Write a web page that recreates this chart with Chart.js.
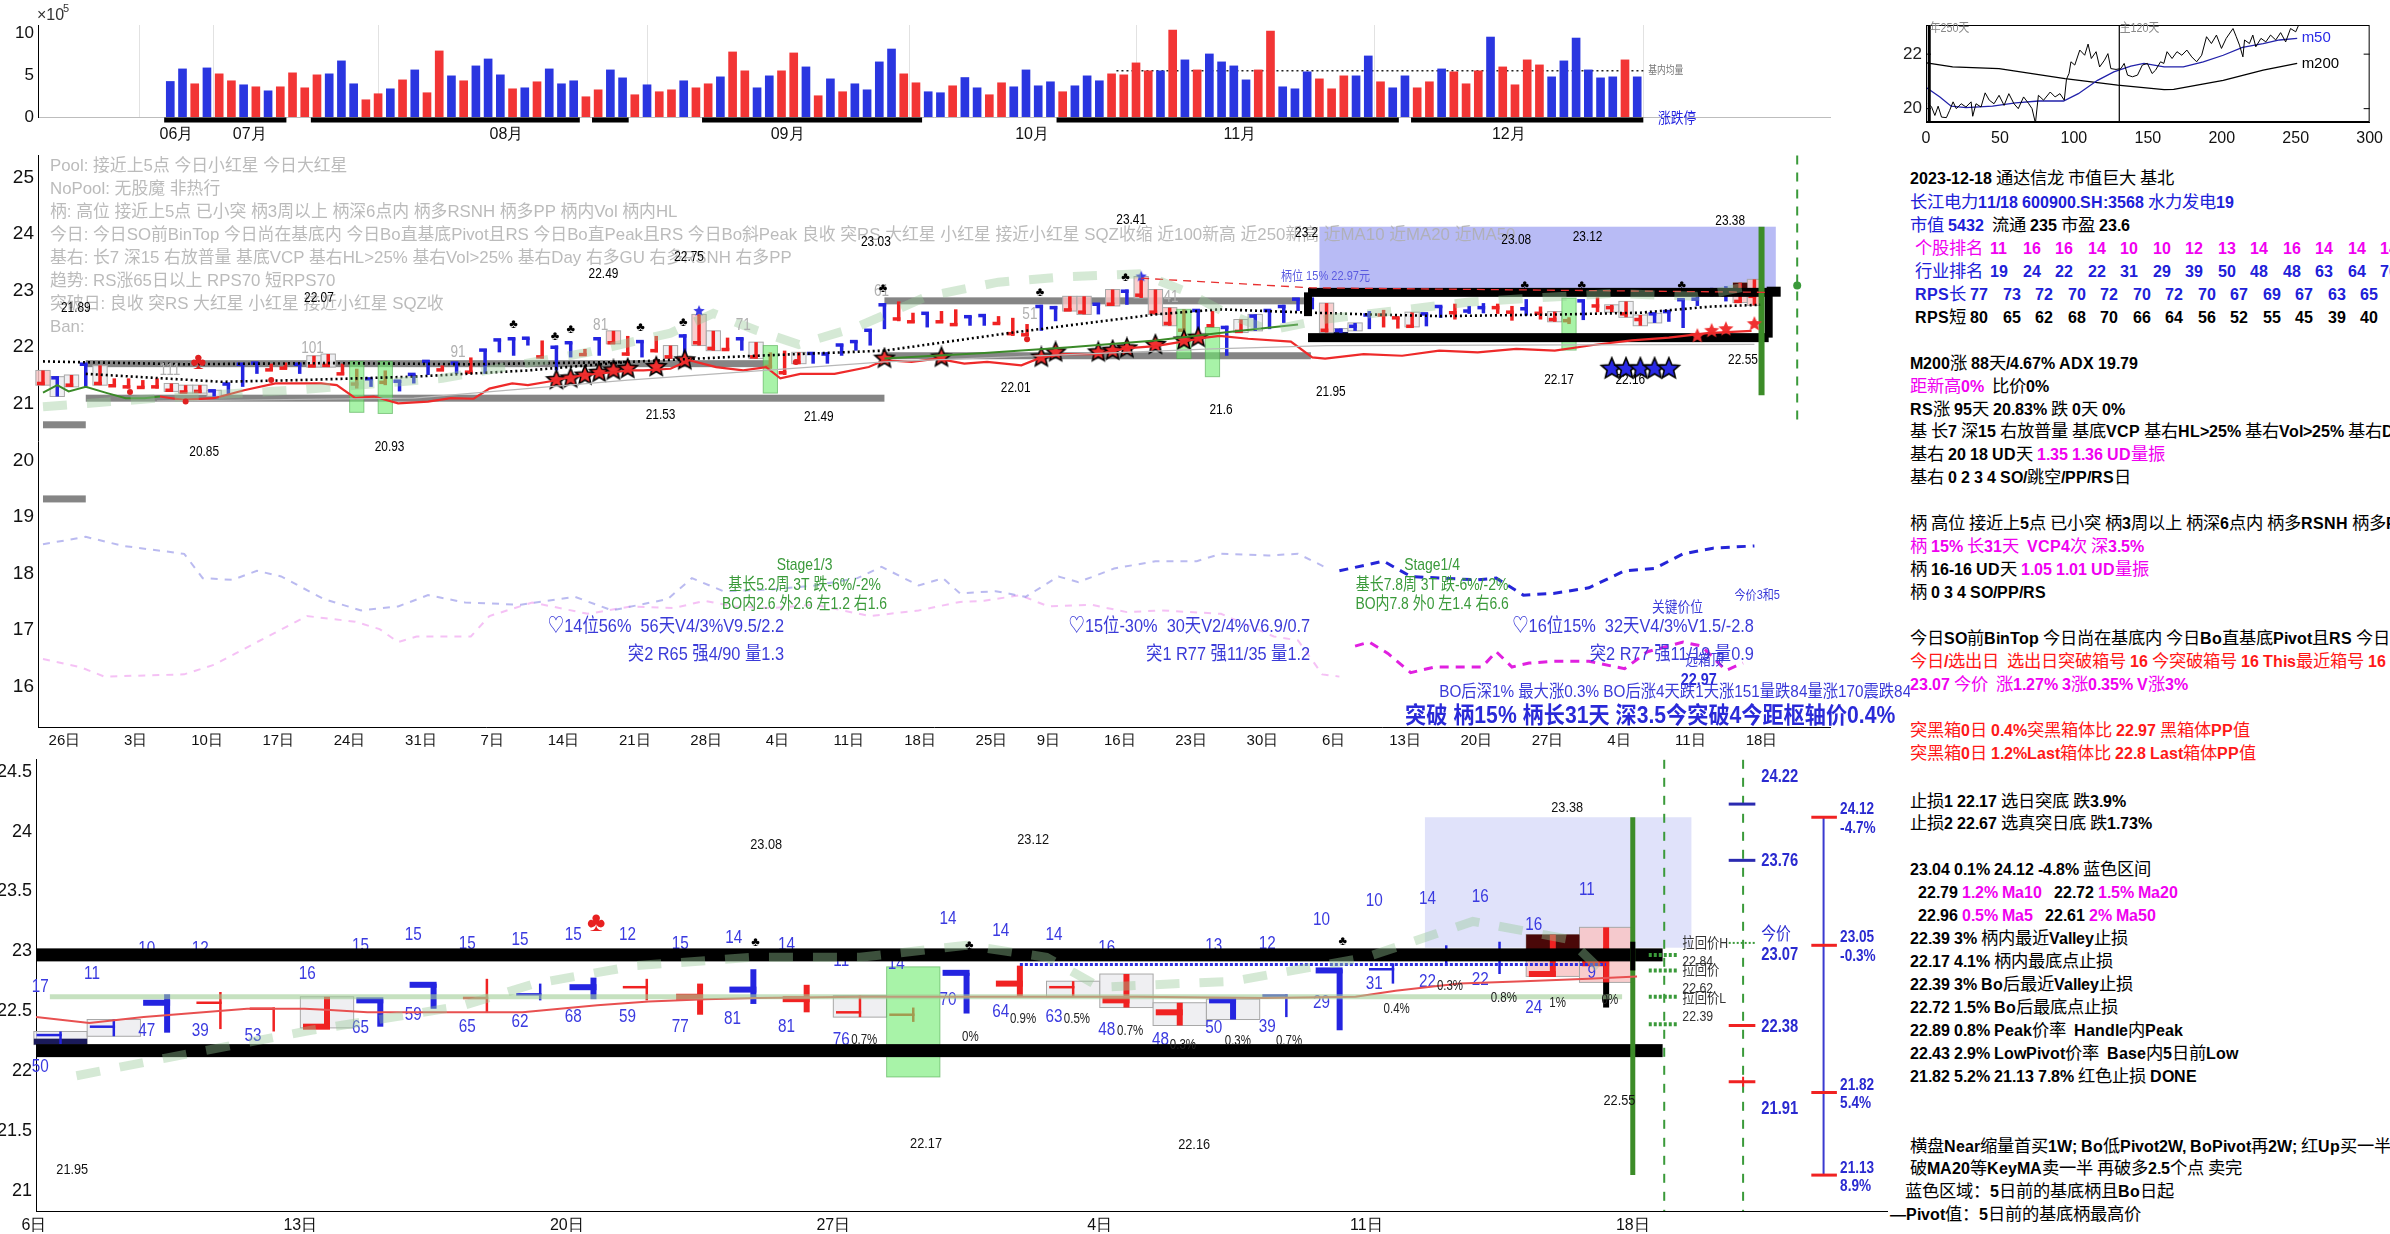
<!DOCTYPE html>
<html><head><meta charset="utf-8">
<script src="https://cdn.jsdelivr.net/npm/chart.js"></script>
<style>
@font-face{font-family:'PL';src:local('Liberation Sans Bold'),local('LiberationSans-Bold');unicode-range:U+0000-02FF,U+2000-206F;}
@font-face{font-family:'PC';src:local('Noto Sans CJK SC'),local('NotoSansCJKsc-Regular'),local('Noto Sans CJK SC Regular');size-adjust:108%;unicode-range:U+2E80-9FFF,U+3000-303F,U+FF00-FFEF;}
html,body{margin:0;padding:0;background:#fff;}
body{width:2390px;height:1234px;overflow:hidden;position:relative;}
canvas{position:absolute;}
.ln{position:absolute;white-space:pre;font-family:'PL','PC','Noto Sans CJK SC',sans-serif;font-size:16px;line-height:20px;color:#000;}
</style></head><body>
<canvas id="cv" width="1890" height="160" style="left:0;top:0"></canvas>
<canvas id="cm" width="500" height="160" style="left:1890px;top:0"></canvas>
<canvas id="cp" width="1910" height="620" style="left:0;top:140px"></canvas>
<canvas id="cb" width="1890" height="489" style="left:0;top:745px"></canvas>
<div id="rp"></div>
<script>
// ================= DATA =================
const volume=[4.25,5.75,3.97,5.87,5.16,4.33,3.85,3.61,3.13,3.61,5.28,3.49,5.04,5.16,6.71,3.97,2.06,2.78,3.37,4.44,
5.63,2.9,7.9,4.92,4.33,6.11,6.94,5.04,3.37,3.49,4.21,5.75,3.97,4.33,2.42,3.25,5.63,4.68,2.66,3.85,
3.02,3.25,4.33,3.49,3.97,4.8,7.78,5.52,3.49,4.92,5.52,7.66,5.99,2.54,4.56,3.02,3.97,3.25,6.59,8.13,
5.16,4.09,3.02,2.9,3.73,4.72,3.49,2.66,4.09,3.61,5.63,3.73,4.21,3.02,3.73,4.92,4.33,5.16,5.04,6.47,
5.52,5.52,10.4,6.83,5.63,7.54,6.59,6.11,4.44,5.63,10.28,3.61,3.37,5.4,4.56,3.37,4.92,4.92,7.3,4.21,
3.49,4.92,3.49,4.21,5.75,5.4,3.97,5.52,9.56,5.99,3.85,6.83,6.23,4.8,6.71,9.44,5.63,4.68,4.8,6.83,4.8];
const volColor="bbrbrrbrbr"+"rrrbbbrrbr"+"brrbrbbbrb"+"rbbbrrbbrb"+"rrbrrbrrbb"+"rrbrbrbbbb"+"rrbbr"+
"bbrrbbbbrb"+"bbrrrrbrbr"+"bbbbrrbbbr"+"rrbbrbbrrb"+"rrrbrrrrbb"+"bbbbrb";
const volSegments=[[0,9],[12,33],[35,37],[44,61],[73,100],[102,120]];
const volBaseAvg=[[77.4,5.52],[120.5,5.52]];

const open=[21.36,21.46,21.33,21.70,21.36,21.32,21.30,21.29,21.30,21.24,21.21,21.22,21.23,21.35,21.70,21.72,21.60,21.63,21.70,21.67,
21.68,21.53,21.35,21.44,21.38,21.40,21.52,21.75,21.60,21.72,21.56,21.95,22.13,22.15,22.16,21.83,22.00,22.08,21.87,22.15,
22.08,21.88,22.10,21.94,21.83,22.20,22.08,21.98,21.96,22.15,21.83,21.66,21.55,21.73,21.89,21.88,22.04,22.10,22.30,22.75,
22.50,22.45,22.60,22.45,22.40,22.54,22.56,22.42,22.24,22.22,22.72,22.70,22.66,22.62,22.76,22.76,22.99,22.92,22.62,22.42,
22.30,22.65,22.38,22.35,22.28,22.55,22.65,22.72,22.85,22.85,22.30,22.30,22.37,22.57,22.57,22.52,22.37,22.59,22.72,22.61,
22.64,22.70,22.70,22.62,22.68,22.60,22.49,22.47,22.82,22.73,22.70,22.59,22.49,22.59,22.63,22.84,22.85,23.00,23.00,22.81,22.90];
const high=[21.59,21.48,21.51,21.71,21.68,21.45,21.45,21.42,21.45,21.36,21.33,21.33,21.24,21.36,21.71,21.74,21.71,21.73,21.71,21.85,
21.88,21.71,21.62,21.45,21.59,21.42,21.53,21.77,21.68,21.74,21.82,21.97,22.14,22.17,22.17,22.12,22.03,22.09,21.97,22.17,
22.29,22.20,22.12,22.20,22.03,22.23,22.58,22.29,22.17,22.17,22.09,21.91,21.94,21.91,21.91,21.91,22.06,22.12,22.32,22.78,
22.81,22.61,22.61,22.64,22.67,22.55,22.58,22.55,22.52,22.41,22.75,22.73,22.90,22.90,22.78,23.02,23.02,23.25,23.02,22.70,
22.67,22.67,22.64,22.38,22.49,22.58,22.67,22.75,22.87,22.87,22.78,22.33,22.43,22.64,22.66,22.53,22.62,22.60,22.73,22.77,
22.73,22.78,22.77,22.73,22.85,22.72,22.63,22.53,22.82,22.88,22.75,22.81,22.57,22.60,22.64,22.85,22.90,23.05,23.08,23.14,23.20];
const low=[21.33,21.13,21.30,21.30,21.33,21.30,21.27,21.27,21.27,21.22,21.19,21.19,21.13,21.16,21.30,21.53,21.59,21.62,21.53,21.65,
21.65,21.51,21.27,21.30,21.33,21.22,21.36,21.51,21.59,21.53,21.53,21.53,21.91,21.85,22.03,21.80,21.59,21.82,21.85,21.85,
22.06,21.85,21.82,21.91,21.80,21.88,22.03,21.94,21.94,21.94,21.80,21.62,21.51,21.71,21.71,21.71,21.85,21.94,22.03,22.32,
22.46,22.43,22.35,22.43,22.38,22.38,22.38,22.41,22.20,22.20,22.29,22.46,22.64,22.58,22.58,22.73,22.75,22.87,22.58,22.38,
22.26,22.20,22.35,21.85,22.26,22.29,22.32,22.43,22.64,22.67,22.26,22.22,22.29,22.32,22.35,22.33,22.36,22.37,22.52,22.49,
22.59,22.60,22.59,22.47,22.56,22.49,22.45,22.41,22.48,22.62,22.62,22.53,22.38,22.43,22.45,22.34,22.73,22.90,22.81,22.79,22.74];
const close=[21.55,21.20,21.47,21.38,21.62,21.42,21.42,21.40,21.43,21.33,21.30,21.31,21.15,21.20,21.40,21.58,21.68,21.70,21.60,21.80,
21.83,21.66,21.58,21.33,21.55,21.25,21.40,21.58,21.66,21.58,21.78,21.62,21.97,21.95,22.06,22.05,21.68,21.90,21.95,21.93,
22.25,22.14,21.90,22.15,22.00,21.95,22.50,22.20,22.12,22.00,22.02,21.85,21.90,21.86,21.75,21.76,21.90,22.00,22.10,22.45,
22.76,22.56,22.45,22.60,22.58,22.42,22.42,22.52,22.45,22.36,22.40,22.55,22.85,22.80,22.62,22.95,22.80,23.15,22.95,22.62,
22.55,22.30,22.58,21.95,22.45,22.35,22.40,22.50,22.70,22.72,22.70,22.25,22.32,22.40,22.62,22.53,22.55,22.42,22.58,22.70,
22.62,22.64,22.74,22.68,22.62,22.66,22.60,22.50,22.55,22.82,22.72,22.75,22.55,22.45,22.50,22.45,22.80,22.95,22.90,23.00,23.07];

const monthTicks=[0.5,6.5,27.5,50.5,70.5,87.5,109.5];
const monthLabels=['06月','07月','08月','09月','10月','11月','12月'];
const weekTicks=[1.5,6.5,11.5,16.5,21.5,26.5,31.5,36.5,41.5,46.5,51.5,56.5,61.5,66.5,70.5,75.5,80.5,85.5,90.5,95.5,100.5,105.5,110.5,115.5,120.5];
const weekLabels=['26日','3日','10日','17日','24日','31日','7日','14日','21日','28日','4日','11日','18日','25日','9日','16日','23日','30日','6日','13日','20日','27日','4日','11日','18日'];
const bottomTicks=[90.5,95.5,100.5,105.5,110.5,115.5,120.5];
const bottomLabels=['6日','13日','20日','27日','4日','11日','18日'];

const miniPrice=[[1.6,20.18],[3.8,20.06],[6,19.75],[8.2,20.09],[10.5,19.69],[13.8,19.67],[16,19.94],[18.3,20.25],[20.5,20.0],[23.8,20.18],[27,20.06],[30.5,20.25],[31.6,19.72],[33.8,20.18],[37.2,20.06],[40,20.58],[42.8,20.31],[46,20.18],[49.4,20.49],[52.8,20.12],[56,20.55],[59.5,20.18],[62.4,20.0],[66,20.43],[69.5,20.18],[71.7,20.0],[74,19.47],[76,20.49],[79.5,20.31],[84,20.61],[87.3,20.43],[90.6,20.55],[93.5,20.31],[95,21.08],[96.7,21.29],[98,21.72],[100.6,21.6],[104,22.15],[107.3,21.96],[109.6,22.37],[111.8,21.84],[115,22.09],[117.4,21.53],[120.7,21.78],[123,22.02],[125,21.47],[128.5,21.44],[131.8,21.47],[134,21.66],[136.3,21.23],[139.6,21.17],[143,21.23],[146.3,21.6],[149.7,21.66],[152.9,21.29],[155.2,21.41],[158.6,21.72],[160.8,21.66],[163,22.09],[166.4,21.84],[169.7,22.09],[173,21.96],[176.4,22.15],[179.7,21.9],[183,21.72],[186.4,21.96],[189.7,22.64],[193,22.39],[196.4,22.7],[199.8,22.21],[203,22.58],[207.6,22.94],[209.8,22.64],[212,22.33],[214.3,21.9],[215.4,22.52],[218.7,22.39],[221,22.7],[223,22.27],[226.5,22.58],[229.8,22.45],[233,22.7],[236.5,22.52],[239.8,22.79],[243.2,22.45],[246.5,22.94],[250,22.82],[251.7,23.03]];
const miniM50=[[0.4,20.77],[9.4,20.43],[17,20.09],[27,20.04],[45,20.09],[60.6,20.21],[76,20.28],[93,20.28],[103,20.55],[116,21.04],[127,21.35],[138.5,21.56],[147.4,21.66],[161,21.53],[174,21.53],[187.5,21.72],[201,21.96],[214,22.25],[228,22.39],[239,22.52],[251,22.58]];
const miniM200=[[0.4,21.68],[18,21.53],[49.4,21.47],[94,21.1],[129.6,20.86],[161,20.70],[167.5,20.71],[201,21.04],[228,21.41],[251,21.66]];

const maRed=[[8.2,21.13],[9.8,21.07],[12,21.1],[14.1,21.24],[16.3,21.36],[19.5,21.36],[20.6,21.33],[21.9,21.1],[23.2,21.13],[24.9,21.01],[27,21.04],[28.6,21.1],[30.2,21.09],[31.3,21.27],[32.9,21.36],[34,21.33],[35.6,21.4],[36.7,21.46],[38,21.51],[41.2,21.59],[42.1,21.59],[44,21.62],[45.3,21.77],[47.2,21.65],[49.1,21.59],[50.7,21.65],[51.7,21.45],[53.1,21.53],[55.5,21.53],[57.9,21.65],[59,21.77],[60.9,21.74],[62.7,21.8],[64.6,21.71],[66.2,21.74],[68.6,21.68],[70,21.82],[71.6,21.88],[74,21.88],[75.9,21.98],[78,22.02],[79.9,22.1],[81.5,22.17],[82.5,22.2],[84.5,22.15],[87.5,22.1],[89,21.82],[89.9,21.8],[92.6,21.88],[95.3,21.85],[97.9,21.94],[100.6,21.91],[103.3,21.97],[106,21.94],[108.7,22.04],[111.4,22.12],[114,22.17],[116.7,22.25],[119.8,22.29]];
const maGreenA=[[0,21.2],[1,21.33],[1.8,21.22],[3,21.3],[4.5,21.19],[5.8,21.1],[7.1,21.1],[8.2,21.13]];
const maGreenB=[[59,21.8],[66,21.9],[72,22.0],[78,22.12],[82.5,22.25],[88,22.4]];
const dottedA=[[0,21.75],[10,21.7],[20,21.72],[30,21.7],[41,21.74],[50,21.85],[59,21.94],[68,22.26],[78,22.58],[82.5,22.67],[89,22.61],[93,22.58],[98,22.55],[106.5,22.58],[112,22.61],[117,22.72],[120.4,22.75]];
const dottedB=[[3,21.53],[12.5,21.39],[18,21.42],[26,21.48],[34,21.59],[41,21.74]];
const grayThin=[[8,21.05],[26,21.1],[41,21.42],[59,21.74],[82,21.97],[90,22.03],[120,22.05]];
const trendDash=[[0,20.95],[8,21.1],[18,21.25],[28,21.45],[38,21.9],[44,22.25],[47,22.6],[50,22.3],[53,22.05],[57,22.35],[62,22.9],[67,23.15],[72,23.25],[77,23.3],[80,23.0],[83,22.6],[86,22.3],[90,22.5],[100,22.8],[110,22.95],[116,22.9],[120,23.1]];
const redDash=[[77,23.22],[89,23.05],[121,22.97]];
const rsBlueLight=[[0,18.52],[3,18.65],[5.6,18.49],[9.9,18.35],[11.2,17.92],[13.3,17.89],[15,18.05],[16.7,17.95],[19.7,17.55],[22.3,17.35],[24.9,17.42],[27,17.62],[29.6,17.49],[33.5,17.45],[37.3,17.59],[39.9,17.35],[43.8,17.55],[45.5,17.92],[47.7,17.69],[51.1,17.72],[54.1,17.79],[57.1,17.92],[58.8,18.12],[61.4,17.79],[63.1,17.92],[64.3,17.65],[66.8,17.69],[68.9,17.59],[71.2,17.95],[72.6,17.85],[75.1,18.09],[78,18.22],[80.9,18.22],[82.6,18.35],[85.9,18.32],[88,18.35],[90.1,18.09]];
const rsBlue=[[90.9,18.05],[94,18.22],[95.9,17.95],[98,17.92],[100.5,17.89],[101.9,17.92],[103.8,17.62],[105.9,17.65],[108.4,17.75],[110.9,18.05],[113,18.09],[115,18.35],[117.1,18.45],[120,18.49]];
const rsPinkLight=[[0,16.49],[2.6,16.35],[4.3,16.18],[9.9,16.22],[12,16.39],[15,16.79],[18.5,17.25],[21.9,17.15],[23.6,17.02],[24.9,16.79],[26.2,16.89],[30,16.89],[31.3,17.25],[34.3,17.49],[38.2,17.29],[41.2,17.42],[44.2,17.39],[46.4,17.52],[48.5,17.42],[51.1,17.39],[54.1,17.45],[58,17.25],[61.4,17.35],[64.3,17.5],[66,17.52],[68.5,17.62],[70.5,17.42],[73.5,17.45],[76,17.32],[78.4,17.35],[82.6,17.29],[86.3,16.89],[88,16.82],[89.7,16.22],[90.9,16.18]];
const rsMagenta=[[92,16.72],[93,16.79],[94.3,16.59],[95.9,16.25],[97.6,16.35],[100.9,16.35],[101.9,16.62],[103,16.35],[104.2,16.42],[105.9,16.45],[108.4,16.45],[110.9,16.32],[112.5,16.62],[115,16.79],[116.3,16.72],[118,16.29],[119.2,16.42]];
const starsRed=[[36,21.42],[37,21.45],[38,21.5],[39,21.55],[40,21.59],[41,21.62],[43,21.65],[45,21.77],[59,21.8],[63,21.82],[70,21.82],[71,21.91],[74,21.91],[75,21.94],[76,21.98],[78,22.04],[80,22.12],[81,22.17]];
const starsRedSmall=[[116,22.2],[117,22.29],[118,22.32],[120,22.41]];
const starsBlue=[[110,21.62],[111,21.62],[112,21.62],[113,21.62],[114,21.62]];
const starsBlueSmall=[[46,22.64],[77,23.25]];
const grayBarsMid=[[3,51,21.71],[3,59,21.1],[59,88.7,22.82],[59,88.9,21.85],[0,3,20.63],[0,3,19.32]];
const pivotLevels=[22.97,22.17];
const zoneMid=[89.5,121.5,23.0,24.13];
const zoneBottom=[116.6,121.6,23.03,24.12];
const greenRects=[[22,20.85,21.75],[24,20.83,21.75],[51,21.19,22.03],[80,21.8,22.67],[82,21.48,22.35],[107,21.95,22.87]];
const boxPink=[0,40,46,72,73,75,77,78,79,90,119,120];
const boxGray=[1,2,4,9,10,11,12,19,20,44,47,50,53,84,85,91,92,96,106,110,111,112,113];
const thickDays=[93,96,97,98,101,103,104,105,108,109,111,112,113,115,119,120];
const midPeak=[[2.3,22.69,'21.89'],[19.35,22.86,'22.07'],[39.3,23.30,'22.49'],[45.3,23.59,'22.75'],[58.4,23.86,'23.03'],[76.3,24.24,'23.41'],[88.6,24.01,'23.2'],[103.3,23.90,'23.08'],[108.3,23.94,'23.12'],[118.3,24.22,'23.38'],[11.3,20.15,'20.85'],[24.3,20.23,'20.93'],[43.3,20.80,'21.53'],[54.4,20.77,'21.49'],[68.2,21.27,'22.01'],[82.6,20.89,'21.6'],[90.3,21.20,'21.95'],[106.3,21.42,'22.17'],[111.3,21.42,'22.16'],[119.2,21.77,'22.55']];
const midGrayNums=[[8.9,21.59,'111'],[18.9,21.97,'101'],[29.1,21.91,'91'],[39.1,22.38,'81'],[49.1,22.38,'71'],[58.8,22.99,'61'],[69.2,22.58,'51'],[79.1,22.87,'41']];
const midClubs=[[33,22.41],[35.9,22.2],[37,22.31],[41.9,22.35],[44.9,22.43],[58.9,23.04],[69.9,22.97],[75.9,23.23],[103.9,23.1],[107.9,23.1],[114.9,23.1]];
const midRedDots=[[6.1,21.21],[10,21.04],[16,21.42],[52.8,21.74],[69,22.14]];
const midTopTexts=['Pool: 接近上5点 今日小红星 今日大红星','NoPool: 无股魔 非热行','柄: 高位 接近上5点 已小突 柄3周以上 柄深6点内 柄多RSNH 柄多PP 柄内Vol 柄内HL','今日: 今日SO前BinTop 今日尚在基底内 今日Bo直基底Pivot且RS 今日Bo直Peak且RS 今日Bo斜Peak 良收 突RS 大红星 小红星 接近小红星 SQZ收缩 近100新高 近250新高 近MA10 近MA20 近MA50','基右: 长7 深15 右放普量 基底VCP 基右HL>25% 基右Vol>25% 基右Day 右多GU 右多RSNH 右多PP','趋势: RS涨65日以上 RPS70 短RPS70','突破日: 良收 突RS 大红星 小红星 接近小红星 SQZ收','Ban:'];
const stageTexts=[[53.4,['Stage1/3','基长5.2周 3T 跌-6%/-2%','BO内2.6 外2.6 左1.2 右1.6']],[97.4,['Stage1/4','基长7.8周 3T 跌-6%/-2%','BO内7.8 外0 左1.4 右6.6']]];
const baseTexts=[[51.96,'♡14位56%  56天V4/3%V9.5/2.2','突2 R65 强4/90 量1.3'],[88.85,'♡15位-30%  30天V2/4%V6.9/0.7','突1 R77 强11/35 量1.2'],[119.96,'♡16位15%  32天V4/3%V1.5/-2.8','突2 R77 强11/19 量0.9']];

const maBottom=[[90.54,22.45],[91.54,22.40],[92.56,22.45],[94.5,22.52],[95.58,22.52],[96.06,22.51],[96.76,22.49],[98.05,22.49],[99.67,22.49],[101.07,22.55],[102.04,22.58],[103.1,22.60],[104.08,22.61],[106.02,22.62],[108.8,22.62],[111.2,22.62],[113.6,22.61],[115.3,22.62],[116.05,22.67],[117.25,22.73],[118.46,22.75],[119.67,22.77],[120.58,22.79]];
const ma50Band=[[90.8,22.62],[120.3,22.62]];
const peakDotted=[[109,22.89],[120,22.89]];
const trendDashBottom=[[91.3,21.96],[93,22.11],[95.7,22.34],[98.5,22.54],[99.9,22.73],[101.8,22.88],[104,22.95],[106,22.95],[108,23.05],[109.5,22.95],[110.5,22.7],[113,22.75],[115.5,22.95],[117.5,23.25],[119.3,23.1],[120,22.8]];
const botNums=[[90.62,22.70,'17'],[91.59,22.81,'11'],[92.62,23.02,'10'],[93.62,23.02,'12'],[95.63,22.81,'16'],[96.63,23.04,'15'],[97.62,23.14,'15'],[98.63,23.06,'15'],[99.62,23.09,'15'],[100.62,23.14,'15'],[101.64,23.14,'12'],[102.63,23.06,'15'],[103.63,23.11,'14'],[104.62,23.05,'14'],[105.65,22.92,'11'],[92.62,22.33,'47'],[93.62,22.33,'39'],[94.61,22.29,'53'],[96.63,22.36,'65'],[97.62,22.47,'59'],[98.63,22.37,'65'],[99.62,22.41,'62'],[100.62,22.45,'68'],[101.64,22.45,'59'],[102.63,22.37,'77'],[103.61,22.43,'81'],[104.62,22.37,'81'],[90.62,22.03,'50'],[105.65,22.26,'76'],[107.65,23.27,'14'],[108.64,23.17,'14'],[109.64,23.14,'14'],[110.63,23.03,'16'],[112.64,23.04,'13'],[113.64,23.06,'12'],[114.66,23.26,'10'],[115.65,23.42,'10'],[116.65,23.44,'14'],[117.64,23.45,'16'],[118.64,23.22,'16'],[119.64,23.51,'11'],[106.68,22.89,'14'],[107.65,22.59,'70'],[108.64,22.49,'64'],[109.64,22.45,'63'],[110.63,22.34,'48'],[111.64,22.26,'48'],[112.64,22.36,'50'],[113.64,22.37,'39'],[114.66,22.57,'29'],[115.65,22.73,'31'],[116.65,22.74,'22'],[117.64,22.76,'22'],[118.64,22.53,'24'],[119.73,22.82,'9']];
const botPct=[[108.07,22.28,'0%'],[109.06,22.43,'0.9%'],[110.07,22.43,'0.5%'],[111.07,22.33,'0.7%'],[112.06,22.22,'0.3%'],[113.09,22.25,'0.3%'],[114.05,22.25,'0.7%'],[116.07,22.52,'0.4%'],[117.07,22.71,'0.3%'],[118.08,22.61,'0.8%'],[119.09,22.57,'1%'],[120.07,22.59,'0%'],[106.08,22.26,'0.7%']];
const botPeak=[[104.24,23.89,'23.08'],[109.25,23.93,'23.12'],[119.27,24.2,'23.38'],[91.22,21.17,'21.95'],[107.24,21.39,'22.17'],[112.27,21.38,'22.16'],[120.25,21.75,'22.55']];
const botClubs=[[104.04,23.07],[108.05,23.05],[115.06,23.08]];
const pullLevels=[22.97,22.84,22.62,22.39];
const pullLabels=[[23.06,'拉回价H'],[22.91,'22.84'],[22.84,'拉回价'],[22.69,'22.62'],[22.6,'拉回价L'],[22.45,'22.39']];
const scale2Ticks=[[24.23,'b'],[23.76,'b'],[22.38,'r'],[21.91,'r']];
const scale2Labels=[[24.46,'24.22',1],[23.75,'23.76',1],[23.14,'今价',0],[22.97,'23.07',1],[22.37,'22.38',1],[21.68,'21.91',1]];
const scale3Ticks=[24.12,23.05,21.82,21.13];
const scale3Labels=[[24.19,'24.12'],[24.03,'-4.7%'],[23.12,'23.05'],[22.96,'-0.3%'],[21.88,'21.82'],[21.73,'5.4%'],[21.19,'21.13'],[21.04,'8.9%']];

const rankStock=[11,16,16,14,10,10,12,13,14,16,14,14,14];
const rankInd=[19,24,22,22,31,29,39,50,48,48,63,64,70];
const rpsLong=[77,73,72,70,72,70,72,70,67,69,67,63,65];
const rpsShort=[80,65,62,68,70,66,64,56,52,55,45,39,40];

// ================= HELPERS =================
const NAR="'Liberation Sans Narrow','Liberation Sans',Arial,sans-serif";
const SANS="'Liberation Sans',Arial,'Noto Sans CJK SC',sans-serif";
const BLUE='#2424e0', RED='#f02222';
const pts=a=>a.map(p=>({x:p[0],y:p[1]}));
function txt(c,s,x,y,o){o=o||{};c.save();c.font=(o.w||'normal')+' '+(o.s||14)+'px '+(o.f||SANS);c.fillStyle=o.c||'#000';c.textBaseline='middle';c.textAlign='left';
 const sx=o.sx||1;const w=c.measureText(s).width*sx;let x0=x;if(o.a==='c')x0=x-w/2;else if(o.a==='r')x0=x-w;
 c.translate(x0,y);c.scale(sx,1);c.fillText(s,0,0);c.restore();}
function starImg(r,fill,stroke){const cv=document.createElement('canvas');const s=Math.ceil(r*2+4);cv.width=cv.height=s;const g=cv.getContext('2d');
 g.beginPath();for(let k=0;k<10;k++){const a=-Math.PI/2+k*Math.PI/5;const rr=k%2?r*0.45:r;g.lineTo(s/2+rr*Math.cos(a),s/2+rr*Math.sin(a));}g.closePath();
 g.fillStyle=fill;g.fill();if(stroke){g.lineWidth=1.6;g.strokeStyle=stroke;g.stroke();}return cv;}
function line(data,color,width,dash,extra){return Object.assign({type:'line',data:pts(data),borderColor:color,borderWidth:width,borderDash:dash||[],pointRadius:0,fill:false,tension:0},extra||{});}
function yAxis(min,max,tv,w,size,fmt){return {type:'linear',position:'left',min,max,afterBuildTicks:s=>{s.ticks=tv.map(v=>({value:v}))},afterFit:s=>{s.width=w},
 grid:{display:false,drawTicks:false},border:{display:true,color:'#000',width:1},ticks:{font:{family:NAR,size},color:'#111',padding:4,callback:fmt||(v=>String(v))}};}
function xAxis(min,max,tv,tl,h,size,pad,grid,bcol,fam){return {type:'linear',position:'bottom',min,max,afterBuildTicks:s=>{s.ticks=tv.map(v=>({value:v}))},afterFit:s=>{s.height=h},
 grid:grid||{display:false,drawTicks:false},border:{display:true,color:bcol||'#000',width:1},
 ticks:{font:{family:fam||NAR,size},color:'#111',padding:pad,maxRotation:0,autoSkip:false,callback:(v,i)=>tl[i]}};}
function seg(c,x1,y1,x2,y2,col,w,dash){c.save();c.strokeStyle=col;c.lineWidth=w;c.setLineDash(dash||[]);c.beginPath();c.moveTo(x1,y1);c.lineTo(x2,y2);c.stroke();c.restore();}
const base={responsive:false,animation:false,devicePixelRatio:1,events:[],plugins:{legend:{display:false},tooltip:{enabled:false}}};
const N=high.length;

// ================= VOLUME =================
new Chart(document.getElementById('cv'),{type:'bar',
 data:{datasets:[{type:'bar',data:volume.map((v,i)=>({x:i,y:v})),backgroundColor:volume.map((v,i)=>volColor[i]==='r'?'#f23535':'#2a36e0'),barThickness:8,grouped:false},
  line(volBaseAvg,'#222',1.5,[2,3])]},
 options:Object.assign({},base,{layout:{padding:{left:0,top:25,right:60,bottom:0}},
  scales:{x:xAxis(-0.35,125.3,monthTicks,monthLabels,43,16,8,{display:true,drawTicks:false,color:'#e2e2e2'},'#bdbdbd'),
   y:yAxis(0,11,[0,5,10],38,17)}}),
 plugins:[{id:'volp',
  beforeDatasetsDraw(ch){const c=ch.ctx,X=v=>ch.scales.x.getPixelForValue(v),Y=v=>ch.scales.y.getPixelForValue(v);
   c.save();c.fillStyle='#000';for(const [a,b] of volSegments){c.fillRect(X(a-0.5),Y(0)+0.5,X(b+0.5)-X(a-0.5),5);}c.restore();},
  afterDatasetsDraw(ch){const c=ch.ctx,X=v=>ch.scales.x.getPixelForValue(v),Y=v=>ch.scales.y.getPixelForValue(v);
   txt(c,'×10',37,16,{s:16,f:NAR,c:'#333'});txt(c,'5',63,9,{s:11,f:NAR,c:'#333'});
   txt(c,'基内均量',X(120.9),Y(5.52),{s:11,c:'#777',sx:0.8});
   txt(c,'涨跌停',X(121.7),Y(0)+2,{s:15,c:BLUE,sx:0.85});}}]});

// ================= MINI =================
new Chart(document.getElementById('cm'),{type:'line',
 data:{datasets:[line(miniPrice,'#000',1),line(miniM50,'#2222aa',1.3),line(miniM200,'#000',1.3)]},
 options:Object.assign({},base,{layout:{padding:{left:0,top:25,right:15,bottom:0}},
  scales:{x:xAxis(0,300,[0,50,100,150,200,250,300],['0','50','100','150','200','250','300'],38,16,7,null,'#000',SANS),
   y:Object.assign(yAxis(19.51,23.07,[20,22],36,17),{ticks:{font:{family:SANS,size:17},color:'#222',padding:4,callback:v=>String(v)}})}}),
 plugins:[{id:'minip',afterDatasetsDraw(ch){const c=ch.ctx,a=ch.chartArea,X=v=>ch.scales.x.getPixelForValue(v),Y=v=>ch.scales.y.getPixelForValue(v);
  c.save();c.strokeStyle='#000';c.lineWidth=1;c.strokeRect(a.left+0.5,a.top+0.5,a.right-a.left-1,a.bottom-a.top-1);c.restore();
  for(const v of [20,22]){seg(c,a.right-6,Y(v),a.right,Y(v),'#000',1);seg(c,a.left,Y(v),a.left+5,Y(v),'#000',1);}
  seg(c,X(2.2),a.top,X(2.2),a.bottom,'#000',3);seg(c,X(130.7),a.top,X(130.7),a.bottom,'#000',1.2);
  txt(c,'年250天',X(2.5),a.top+4,{s:12,c:'#888',sx:0.9});txt(c,'主120天',X(131),a.top+4,{s:12,c:'#888',sx:0.9});
  txt(c,'m50',X(254),Y(22.6),{s:15,c:'#2a2ae6'});txt(c,'m200',X(254),Y(21.66),{s:15,c:'#000'});}}]});

// ================= MAIN PRICE =================
const starR=starImg(10,'#f03030','#000'), starRs=starImg(8,'#f03030',null), starB=starImg(11,'#2a2ae6','#000'), starBs=starImg(6,'#3a3ae6',null);
function candles(c,X,Y,from,thin,thick,tick){
 for(let i=from;i<N;i++){const up=close[i]>=open[i];const col=up?RED:BLUE;const w=thickDays.includes(i)?thick:thin;
  seg(c,X(i),Y(high[i]),X(i),Y(low[i]),col,w);seg(c,X(i)-tick,Y(open[i]),X(i)+w/2,Y(open[i]),col,w);}}
function boxes(c,X,Y,from){
 for(const i of boxGray){if(i<from)continue;c.fillStyle='rgba(236,236,240,0.85)';c.strokeStyle='#a8a8a8';c.lineWidth=1;c.fillRect(X(i-0.5),Y(high[i]),X(i+0.5)-X(i-0.5),Y(low[i])-Y(high[i]));c.strokeRect(X(i-0.5),Y(high[i]),X(i+0.5)-X(i-0.5),Y(low[i])-Y(high[i]));}
 for(const i of boxPink){if(i<from)continue;c.fillStyle='rgba(248,196,196,0.85)';c.strokeStyle='#a8a8a8';c.lineWidth=1;c.fillRect(X(i-0.5),Y(high[i]),X(i+0.5)-X(i-0.5),Y(low[i])-Y(high[i]));c.strokeRect(X(i-0.5),Y(high[i]),X(i+0.5)-X(i-0.5),Y(low[i])-Y(high[i]));}
 c.fillStyle='#1a1a5a';if(91>=from)c.fillRect(X(90.5),Y(22.27),X(91.5)-X(90.5),Y(low[91])-Y(22.27));
 c.fillStyle='#4a0808';c.fillRect(X(118.5),Y(high[119]),X(119.5)-X(118.5),Y(22.92)-Y(high[119]));}
function greens(c,X,Y,from){for(const [i,lo,hi] of greenRects){if(i<from)continue;c.fillStyle='rgba(110,235,110,0.6)';c.fillRect(X(i-0.5),Y(hi),X(i+0.5)-X(i-0.5),Y(lo)-Y(hi));c.strokeStyle='rgba(80,170,80,0.6)';c.lineWidth=1;c.strokeRect(X(i-0.5),Y(hi),X(i+0.5)-X(i-0.5),Y(lo)-Y(hi));}}

new Chart(document.getElementById('cp'),{type:'line',
 data:{datasets:[
  line(trendDash,'rgba(150,200,150,0.4)',9,[24,20]),
  line(grayThin,'#b8b8b8',1.2),
  line(maGreenA,'#3a8a28',2),line(maGreenB,'#3a8a28',2),
  line(maRed,'#ee2a2a',2.2),
  line(dottedA,'#000',2.6,[2,3]),line(dottedB,'#000',2.6,[2,3]),
  line(redDash,'#e83030',1.3,[8,6]),
  line(rsBlueLight,'rgba(140,140,230,0.6)',2,[7,7]),line(rsBlue,'#2525d8',3,[9,7]),
  line(rsPinkLight,'rgba(240,160,240,0.65)',2,[7,7]),line(rsMagenta,'#e020e0',3,[9,7]),
  {type:'line',data:pts(starsRed),showLine:false,pointStyle:starR,pointRadius:10},
  {type:'line',data:pts(starsRedSmall),showLine:false,pointStyle:starRs,pointRadius:8},
  {type:'line',data:pts(starsBlue),showLine:false,pointStyle:starB,pointRadius:11},
  {type:'line',data:pts(starsBlueSmall),showLine:false,pointStyle:starBs,pointRadius:6}]},
 options:Object.assign({},base,{layout:{padding:{left:0,top:7,right:80,bottom:0}},
  scales:{x:xAxis(-0.35,125.3,weekTicks,weekLabels,33,15,5),y:yAxis(15.29,25.39,[16,17,18,19,20,21,22,23,24,25],38,19)}}),
 plugins:[{id:'midp',
  beforeDatasetsDraw(ch){const c=ch.ctx,X=v=>ch.scales.x.getPixelForValue(v),Y=v=>ch.scales.y.getPixelForValue(v);c.save();
   c.fillStyle='rgba(176,180,244,0.9)';c.fillRect(X(zoneMid[0]),Y(zoneMid[3]),X(zoneMid[1])-X(zoneMid[0]),Y(zoneMid[2])-Y(zoneMid[3]));
   c.fillStyle='rgba(112,112,112,0.85)';for(const [a,b,v] of grayBarsMid)c.fillRect(X(a),Y(v)-3.5,X(b)-X(a),7);
   boxes(c,X,Y,0);candles(c,X,Y,0,3.5,3.5,6);greens(c,X,Y,0);
   c.fillStyle='#000';for(const v of pivotLevels)c.fillRect(X(88.7),Y(v)-4.5,X(121)-X(88.7),9);
   c.fillRect(X(88.7)-4,Y(22.97),8,Y(22.55)-Y(22.97));c.fillRect(X(121)-4,Y(22.97),8,Y(22.17)-Y(22.97));c.fillRect(X(121)-2,Y(23.07),14,10);
   seg(c,X(120.5),Y(24.13),X(120.5),Y(21.15),'#3c8c28',6);
   c.restore();},
  afterDatasetsDraw(ch){const c=ch.ctx,a=ch.chartArea,X=v=>ch.scales.x.getPixelForValue(v),Y=v=>ch.scales.y.getPixelForValue(v);
   seg(c,X(123),a.top,X(123),Y(20.72),'#3a9a3a',2,[9,8]);c.fillStyle='#3a9a3a';c.beginPath();c.arc(X(123),Y(23.09),4,0,7);c.fill();
   midTopTexts.forEach((s,k)=>txt(c,s,a.left+12,a.top+10.5+k*23,{s:17,c:'rgba(175,175,175,0.85)',sx:0.99}));
   for(const [i,v,s] of midPeak)txt(c,s,X(i),Y(v),{s:14,a:'c',sx:0.85});
   for(const [i,v,s] of midGrayNums)txt(c,s,X(i),Y(v),{s:16,a:'c',c:'#b0b0b0',sx:0.85});
   for(const [i,v] of midClubs)txt(c,'♣',X(i),Y(v),{s:13,a:'c',c:'#000'});
   txt(c,'♣',X(10.9),Y(21.74),{s:24,a:'c',c:'#e02020'});
   c.fillStyle='#e02020';for(const [i,v] of midRedDots){c.beginPath();c.arc(X(i),Y(v),3,0,7);c.fill();}
   txt(c,'柄位 15% 22.97元',X(86.8),Y(23.25),{s:13,c:'#5a5ae0',sx:0.85});
   for(const [i,arr] of stageTexts)arr.forEach((s,k)=>txt(c,s,X(i),Y(18.15-k*0.35),{s:17,a:'c',c:'#3a9a3a',sx:0.82}));
   for(const [i,s1,s2] of baseTexts){txt(c,s1,X(i),Y(17.06),{s:19,a:'r',c:'#3a3ad8',sx:0.86});txt(c,s2,X(i),Y(16.57),{s:19,a:'r',c:'#3a3ad8',sx:0.86});}
   txt(c,'关键价位',X(114.6),Y(17.39),{s:15,a:'c',c:'#3a3ad8',sx:0.85});
   txt(c,'今价3和5',X(120.2),Y(17.61),{s:13,a:'c',c:'#3a3ad8',sx:0.85});
   txt(c,'远箱顶',X(116.5),Y(16.45),{s:15,a:'c',c:'#3a3ad8',sx:0.85});
   txt(c,'22.97',X(116.1),Y(16.12),{s:17,a:'c',c:'#2a2ad8',w:'bold',sx:0.85});
   txt(c,'BO后深1% 最大涨0.3% BO后涨4天跌1天涨151量跌84量涨170震跌84震',X(97.9),Y(15.9),{s:17,c:'#3a3ad8',sx:0.9});
   txt(c,'突破 柄15% 柄长31天 深3.5今突破4今距枢轴价0.4%',X(95.5),Y(15.47),{s:23,c:'#2a2ad8',w:'bold',sx:0.92});
  }}]});

// ================= BOTTOM =================
new Chart(document.getElementById('cb'),{type:'line',
 data:{datasets:[line(ma50Band,'rgba(160,205,150,0.6)',5),line(trendDashBottom,'rgba(150,200,150,0.4)',9,[24,20]),
  line(maBottom,'#e85050',2),line(peakDotted,'#2a2ae0',3,[3,2])]},
 options:Object.assign({},base,{layout:{padding:{left:0,top:7,right:3,bottom:0}},
  scales:{x:xAxis(90.54,125.27,bottomTicks,bottomLabels,23,16,5),y:yAxis(20.83,24.6,[21,21.5,22,22.5,23,23.5,24,24.5],36,18)}}),
 plugins:[{id:'botp',
  beforeDatasetsDraw(ch){const c=ch.ctx,X=v=>ch.scales.x.getPixelForValue(v),Y=v=>ch.scales.y.getPixelForValue(v);c.save();
   c.fillStyle='rgba(222,224,250,0.95)';c.fillRect(X(zoneBottom[0]),Y(zoneBottom[3]),X(zoneBottom[1])-X(zoneBottom[0]),Y(zoneBottom[2])-Y(zoneBottom[3]));
   boxes(c,X,Y,91);
   seg(c,X(120),Y(23.03),X(120),Y(22.53),'#000',6);
   const tk=X(1)-X(0.5);candles(c,X,Y,91,2.5,6,tk*0.9);greens(c,X,Y,91);
   for(const [i,v,s] of botNums)txt(c,s,X(i),Y(v),{s:18,a:'c',c:'#3a3ae0',sx:0.85});
   c.fillStyle='#000';for(const v of pivotLevels)c.fillRect(X(90.54),Y(v)-6.5,X(121.06)-X(90.54),13);
   seg(c,X(120.5),Y(24.12),X(120.5),Y(21.13),'#3c8c28',5);seg(c,X(120.5),Y(23.08),X(120.5),Y(22.84),'#000',5);
   c.restore();},
  afterDatasetsDraw(ch){const c=ch.ctx,a=ch.chartArea,X=v=>ch.scales.x.getPixelForValue(v),Y=v=>ch.scales.y.getPixelForValue(v);
   seg(c,X(121.09),a.top,X(121.09),a.bottom,'#3a9a3a',2,[9,9]);seg(c,X(122.57),a.top,X(122.57),a.bottom,'#3a9a3a',2,[9,9]);
   for(const v of pullLevels)seg(c,X(120.8),Y(v),X(121.36),Y(v),'#3a9a3a',4,[3,2]);
   seg(c,X(122.3),Y(23.07),X(122.8),Y(23.07),'#3a9a3a',2,[2,2]);
   for(const [v,k] of scale2Ticks)seg(c,X(122.3),Y(v),X(122.8),Y(v),k==='b'?'#2a2ab0':RED,3);
   seg(c,X(122.57),Y(21.91)-5,X(122.57),Y(21.91)+5,RED,2);
   seg(c,X(124.08),Y(24.12),X(124.08),Y(21.13),'#3a3ad0',2);
   for(const v of scale3Ticks)seg(c,X(123.85),Y(v),X(124.33),Y(v),RED,3);
   for(const [v,s,b] of scale2Labels)txt(c,s,X(122.91),Y(v),{s:18,c:'#2a2ad0',w:b?'bold':'normal',sx:0.82});
   for(const [v,s] of scale3Labels)txt(c,s,X(124.39),Y(v),{s:17,c:'#2a2ad0',w:'bold',sx:0.8});
   for(const [v,s] of pullLabels)txt(c,s,X(121.43),Y(v),{s:15,c:'#333',sx:0.82});
   for(const [i,v,s] of botPct)txt(c,s,X(i),Y(v),{s:14,a:'c',c:'#222',sx:0.82});
   for(const [i,v,s] of botPeak)txt(c,s,X(i),Y(v),{s:15,a:'c',c:'#111',sx:0.85});
   for(const [i,v] of botClubs)txt(c,'♣',X(i),Y(v),{s:13,a:'c'});
   txt(c,'♣',X(101.05),Y(23.23),{s:28,a:'c',c:'#e82020'});
  }}]});

// ================= RIGHT PANEL =================
const K='#000',B='#2020d8',M='#f000f0',R='#ff1818';
const rp=document.getElementById('rp');
function addLine(y,x,parts){const d=document.createElement('div');d.className='ln';d.style.left=x+'px';d.style.top=(y-10)+'px';
 d.innerHTML=parts.map(p=>'<span style="color:'+p[0]+'">'+p[1]+'</span>').join('');rp.appendChild(d);}
function addRow(y,label,lx,nums,nx,col){addLine(y,lx,[[col,label]]);nums.forEach((n,k)=>addLine(y,nx+k*32.5,[[col,String(n)]]));}
addLine(179,1910,[[K,'2023-12-18 通达信龙 市值巨大 基北']]);
addLine(203,1910,[[B,'长江电力11/18 600900.SH:3568 水力发电19']]);
addLine(226,1910,[[B,'市值 5432'],[K,'  流通 235 市盈 23.6']]);
addRow(249,'个股排名',1915,rankStock,1990,M);
addRow(272,'行业排名',1915,rankInd,1990,B);
addRow(295,'RPS长',1915,rpsLong,1970,B);
addRow(318,'RPS短',1915,rpsShort,1970,K);
addLine(364,1910,[[K,'M200涨 88天/4.67% ADX 19.79']]);
addLine(387,1910,[[M,'距新高0%'],[K,'  比价0%']]);
addLine(410,1910,[[K,'RS涨 95天 20.83% 跌 0天 0%']]);
addLine(432,1910,[[K,'基 长7 深15 右放普量 基底VCP 基右HL>25% 基右Vol>25% 基右Day 右多GU 右多RSNH']]);
addLine(455,1910,[[K,'基右 20 18 UD天 '],[M,'1.35 1.36 UD量振']]);
addLine(478,1910,[[K,'基右 0 2 3 4 SO/跳空/PP/RS日']]);
addLine(524,1910,[[K,'柄 高位 接近上5点 已小突 柄3周以上 柄深6点内 柄多RSNH 柄多PP 柄内Vol']]);
addLine(547,1910,[[M,'柄 15% 长31天  VCP4次 深3.5%']]);
addLine(570,1910,[[K,'柄 16-16 UD天 '],[M,'1.05 1.01 UD量振']]);
addLine(593,1910,[[K,'柄 0 3 4 SO/PP/RS']]);
addLine(639,1910,[[K,'今日SO前BinTop 今日尚在基底内 今日Bo直基底Pivot且RS 今日Bo直Peak且RS']]);
addLine(662,1910,[[R,'今日/选出日  选出日突破箱号 16 今突破箱号 16 This最近箱号 16']]);
addLine(685,1910,[[M,'23.07 今价  涨1.27% 3涨0.35% V涨3%']]);
addLine(731,1910,[[R,'突黑箱0日 0.4%突黑箱体比 22.97 黑箱体PP值']]);
addLine(754,1910,[[R,'突黑箱0日 1.2%Last箱体比 22.8 Last箱体PP值']]);
addLine(802,1910,[[K,'止损1 22.17 选日突底 跌3.9%']]);
addLine(824,1910,[[K,'止损2 22.67 选真突日底 跌1.73%']]);
addLine(870,1910,[[K,'23.04 0.1% 24.12 -4.8% 蓝色区间']]);
addLine(893,1910,[[K,'  22.79 '],[M,'1.2% Ma10'],[K,'   22.72 '],[M,'1.5% Ma20']]);
addLine(916,1910,[[K,'  22.96 '],[M,'0.5% Ma5'],[K,'   22.61 '],[M,'2% Ma50']]);
addLine(939,1910,[[K,'22.39 3% 柄内最近Valley止损']]);
addLine(962,1910,[[K,'22.17 4.1% 柄内最底点止损']]);
addLine(985,1910,[[K,'22.39 3% Bo后最近Valley止损']]);
addLine(1008,1910,[[K,'22.72 1.5% Bo后最底点止损']]);
addLine(1031,1910,[[K,'22.89 0.8% Peak价率  Handle内Peak']]);
addLine(1054,1910,[[K,'22.43 2.9% LowPivot价率  Base内5日前Low']]);
addLine(1077,1910,[[K,'21.82 5.2% 21.13 7.8% 红色止损 DONE']]);
addLine(1147,1910,[[K,'横盘Near缩量首买1W; Bo低Pivot2W, BoPivot再2W; 红Up买一半']]);
addLine(1169,1910,[[K,'破MA20等KeyMA卖一半 再破多2.5个点 卖完']]);
addLine(1192,1905,[[K,'蓝色区域：5日前的基底柄且Bo日起']]);
addLine(1215,1890,[[K,'—Pivot值：5日前的基底柄最高价']]);
</script>
</body></html>
